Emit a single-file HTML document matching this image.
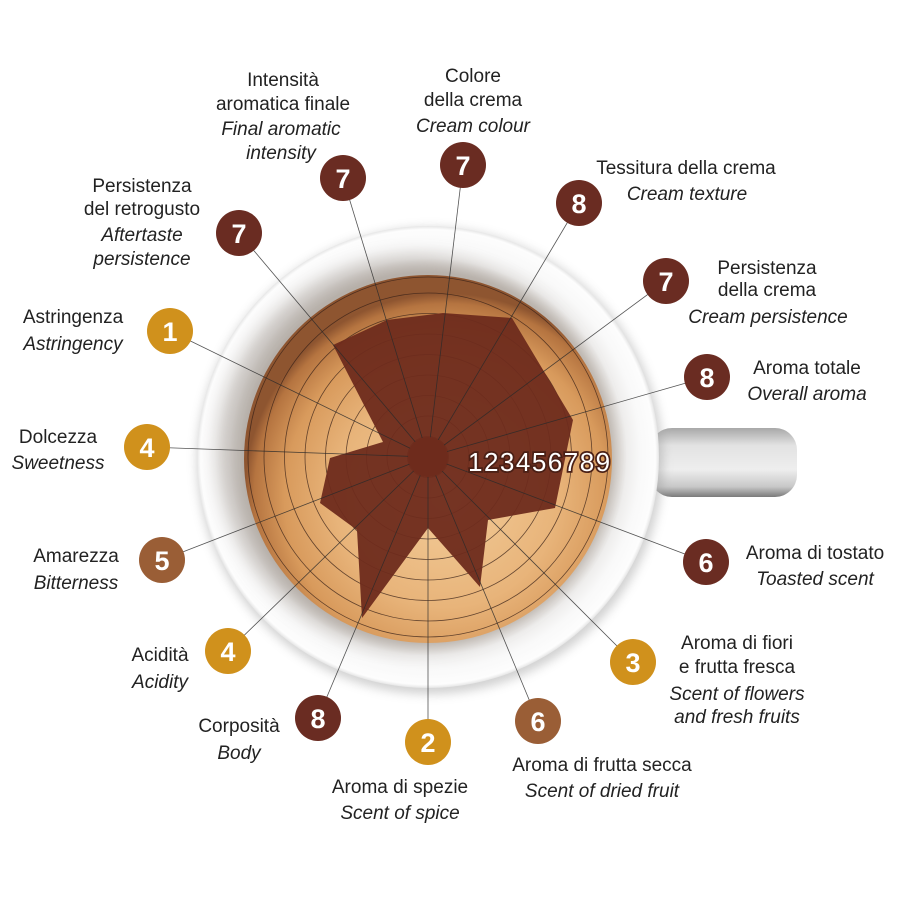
<!DOCTYPE html>
<html><head><meta charset="utf-8"><style>
html,body{margin:0;padding:0;background:#fff;}
svg{display:block;}
text{font-family:"Liberation Sans",sans-serif;font-size:19px;fill:#222;}
.i{font-style:italic;}
.b{fill:#fff;font-size:27px;font-weight:bold;text-anchor:middle;}
</style></head><body>
<svg width="900" height="900" viewBox="0 0 900 900" xmlns="http://www.w3.org/2000/svg">
<defs>
<radialGradient id="cup" cx="50%" cy="50%" r="50%">
<stop offset="0.80" stop-color="#c8c2bc"/><stop offset="0.86" stop-color="#eeedec"/><stop offset="0.92" stop-color="#f9f9f9"/><stop offset="0.985" stop-color="#fdfdfd"/><stop offset="1" stop-color="#e6e6e6"/>
</radialGradient>
<radialGradient id="crema" cx="55%" cy="60%" r="55%">
<stop offset="0" stop-color="#f3cd9a"/><stop offset="0.55" stop-color="#e8b47a"/><stop offset="0.8" stop-color="#d89a5c"/><stop offset="0.95" stop-color="#b57440"/><stop offset="1" stop-color="#8e5530"/>
</radialGradient>
<linearGradient id="handle" x1="0" y1="0" x2="0" y2="1">
<stop offset="0" stop-color="#a8a8a8"/><stop offset="0.25" stop-color="#e2e2e2"/><stop offset="0.6" stop-color="#eeeeee"/><stop offset="0.85" stop-color="#c8c8c8"/><stop offset="1" stop-color="#7a7a7a"/>
</linearGradient>
<filter id="sh" x="-20%" y="-20%" width="140%" height="140%"><feGaussianBlur stdDeviation="5"/></filter>
<filter id="sh2" x="-20%" y="-20%" width="140%" height="140%"><feGaussianBlur stdDeviation="9"/></filter>
<clipPath id="cl"><circle cx="428" cy="457" r="229"/></clipPath>
</defs>
<rect x="650" y="428" width="147" height="69" rx="22" fill="url(#handle)"/>
<circle cx="430" cy="461" r="233" fill="#999" filter="url(#sh)" opacity="0.45"/>
<circle cx="428" cy="457" r="231" fill="url(#cup)"/>
<circle cx="412" cy="452" r="194" fill="#a8a09a" filter="url(#sh2)" opacity="0.55" clip-path="url(#cl)"/>
<circle cx="428" cy="459" r="184" fill="url(#crema)"/>
<g fill="none" stroke="#3a2218" stroke-width="0.8" opacity="0.75">
<circle cx="428" cy="457" r="20.5"/><circle cx="428" cy="457" r="41"/><circle cx="428" cy="457" r="61.5"/><circle cx="428" cy="457" r="82"/><circle cx="428" cy="457" r="102.5"/><circle cx="428" cy="457" r="123"/><circle cx="428" cy="457" r="143.5"/><circle cx="428" cy="457" r="164"/><circle cx="428" cy="457" r="180"/>
</g>
<polygon fill="#6e2b1c" opacity="0.95" points="333,345 387,320 443,313 512,318 573,420 555,508 488,520 480,587 428,528 362,618 357,530 320,503 330,458 383,442"/>
<g stroke="#2a2a2a" stroke-width="0.8" opacity="0.8">
<line x1="428" y1="457" x2="343" y2="178"/><line x1="428" y1="457" x2="463" y2="165"/><line x1="428" y1="457" x2="579" y2="203"/><line x1="428" y1="457" x2="666" y2="281"/><line x1="428" y1="457" x2="707" y2="377"/><line x1="428" y1="457" x2="706" y2="562"/><line x1="428" y1="457" x2="633" y2="662"/><line x1="428" y1="457" x2="538" y2="721"/><line x1="428" y1="457" x2="428" y2="742"/><line x1="428" y1="457" x2="318" y2="718"/><line x1="428" y1="457" x2="228" y2="651"/><line x1="428" y1="457" x2="162" y2="560"/><line x1="428" y1="457" x2="147" y2="447"/><line x1="428" y1="457" x2="170" y2="331"/><line x1="428" y1="457" x2="239" y2="233"/>
</g>
<circle cx="428" cy="457" r="20" fill="#6e2b1c"/>
<text x="468" y="471" style="font-size:26px;fill:#fff;stroke:#4a2016;stroke-width:3.5;paint-order:stroke;letter-spacing:1.5px">123456789</text>
<g>
<circle cx="343" cy="178" r="23" fill="#6a2c22"/><text class="b" x="343" y="188">7</text>
<circle cx="463" cy="165" r="23" fill="#6a2c22"/><text class="b" x="463" y="175">7</text>
<circle cx="579" cy="203" r="23" fill="#6a2c22"/><text class="b" x="579" y="213">8</text>
<circle cx="666" cy="281" r="23" fill="#6a2c22"/><text class="b" x="666" y="291">7</text>
<circle cx="707" cy="377" r="23" fill="#6a2c22"/><text class="b" x="707" y="387">8</text>
<circle cx="706" cy="562" r="23" fill="#6a2c22"/><text class="b" x="706" y="572">6</text>
<circle cx="633" cy="662" r="23" fill="#d0911c"/><text class="b" x="633" y="672">3</text>
<circle cx="538" cy="721" r="23" fill="#9a5e36"/><text class="b" x="538" y="731">6</text>
<circle cx="428" cy="742" r="23" fill="#d0911c"/><text class="b" x="428" y="752">2</text>
<circle cx="318" cy="718" r="23" fill="#6a2c22"/><text class="b" x="318" y="728">8</text>
<circle cx="228" cy="651" r="23" fill="#d0911c"/><text class="b" x="228" y="661">4</text>
<circle cx="162" cy="560" r="23" fill="#9a5e36"/><text class="b" x="162" y="570">5</text>
<circle cx="147" cy="447" r="23" fill="#d0911c"/><text class="b" x="147" y="457">4</text>
<circle cx="170" cy="331" r="23" fill="#d0911c"/><text class="b" x="170" y="341">1</text>
<circle cx="239" cy="233" r="23" fill="#6a2c22"/><text class="b" x="239" y="243">7</text>
</g>
<g text-anchor="middle">
<text x="283" y="86">Intensità</text><text x="283" y="110">aromatica finale</text>
<text class="i" x="281" y="135">Final aromatic</text><text class="i" x="281" y="159">intensity</text>
<text x="473" y="82">Colore</text><text x="473" y="106">della crema</text><text class="i" x="473" y="132">Cream colour</text>
<text x="686" y="174">Tessitura della crema</text><text class="i" x="687" y="200">Cream texture</text>
<text x="767" y="274">Persistenza</text><text x="767" y="296">della crema</text><text class="i" x="768" y="323">Cream persistence</text>
<text x="807" y="374">Aroma totale</text><text class="i" x="807" y="400">Overall aroma</text>
<text x="815" y="559">Aroma di tostato</text><text class="i" x="815" y="585">Toasted scent</text>
<text x="737" y="649">Aroma di fiori</text><text x="737" y="673">e frutta fresca</text><text class="i" x="737" y="700">Scent of flowers</text><text class="i" x="737" y="723">and fresh fruits</text>
<text x="602" y="771">Aroma di frutta secca</text><text class="i" x="602" y="797">Scent of dried fruit</text>
<text x="400" y="793">Aroma di spezie</text><text class="i" x="400" y="819">Scent of spice</text>
<text x="239" y="732">Corposità</text><text class="i" x="239" y="759">Body</text>
<text x="160" y="661">Acidità</text><text class="i" x="160" y="688">Acidity</text>
<text x="76" y="562">Amarezza</text><text class="i" x="76" y="589">Bitterness</text>
<text x="58" y="443">Dolcezza</text><text class="i" x="58" y="469">Sweetness</text>
<text x="73" y="323">Astringenza</text><text class="i" x="73" y="350">Astringency</text>
<text x="142" y="192">Persistenza</text><text x="142" y="215">del retrogusto</text><text class="i" x="142" y="241">Aftertaste</text><text class="i" x="142" y="265">persistence</text>
</g>
</svg>
</body></html>
